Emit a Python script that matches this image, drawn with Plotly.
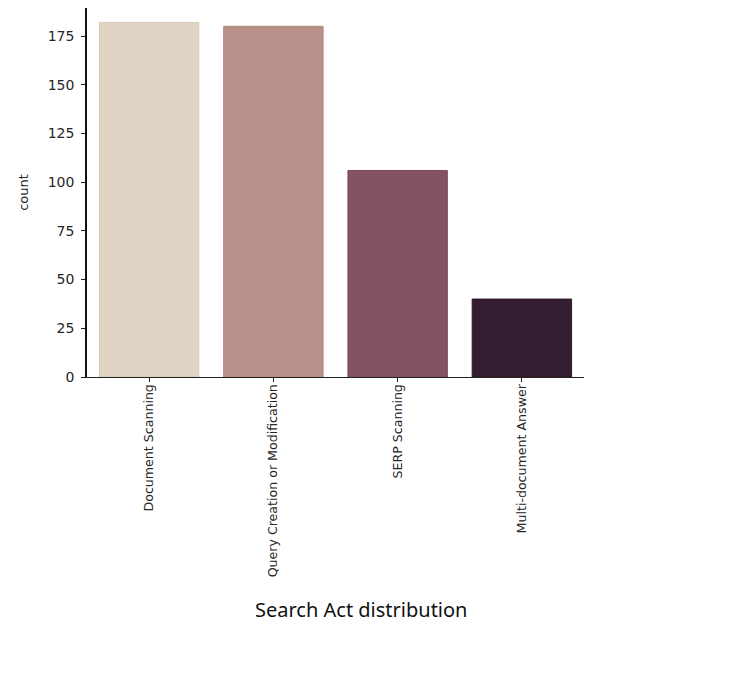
import plotly.graph_objects as go

CATEGORIES = [
    "Document Scanning",
    "Query Creation or Modification",
    "SERP Scanning",
    "Multi-document Answer",
]
COUNTS = [182, 180, 106, 40]
BAR_COLORS = ["#E0D4C5", "#B98F89", "#835364", "#351D31"]
EDGE_COLORS = ["#D9CBBB", "#B2877F", "#7A4B5C", "#2E1729"]
Y_TICKS = [0, 25, 50, 75, 100, 125, 150, 175]

X_TICK_FONT = {"family": "DejaVu Sans", "size": 12.6, "color": "#262626"}
Y_TICK_FONT = {"family": "DejaVu Sans", "size": 14, "color": "#262626"}

fig = go.Figure(
    go.Bar(
        x=CATEGORIES,
        y=COUNTS,
        width=0.8,
        marker={"color": BAR_COLORS, "line": {"color": EDGE_COLORS, "width": 1}},
    )
)

fig.update_layout(
    width=754,
    height=673,
    margin={"l": 79, "r": 178, "t": 0, "b": 304},
    paper_bgcolor="white",
    plot_bgcolor="white",
    showlegend=False,
    annotations=[
        {
            "text": "Search Act distribution",
            "xref": "paper",
            "yref": "paper",
            "x": 0.551,
            "y": -0.631,
            "xanchor": "center",
            "yanchor": "middle",
            "showarrow": False,
            "font": {"family": "Noto Sans", "size": 20, "color": "#111111"},
        }
    ],
)

fig.update_xaxes(
    range=[-0.5, 3.5],
    tickangle=-90,
    tickfont=X_TICK_FONT,
    ticklabelstandoff=-3,
    showline=True,
    linecolor="#222222",
    linewidth=1.2,
    ticks="outside",
    ticklen=4,
    tickcolor="#222222",
    showgrid=False,
    zeroline=False,
)
fig.update_yaxes(
    range=[0, 189.4],
    tickvals=Y_TICKS,
    tickfont=Y_TICK_FONT,
    ticklabelstandoff=4,
    title={"text": "count", "font": {"family": "DejaVu Sans", "size": 13, "color": "#262626"}, "standoff": 16},
    showline=True,
    linecolor="#111111",
    linewidth=1.5,
    ticks="outside",
    ticklen=4,
    tickcolor="#222222",
    showgrid=False,
    zeroline=False,
)

fig.write_html("out.html")
